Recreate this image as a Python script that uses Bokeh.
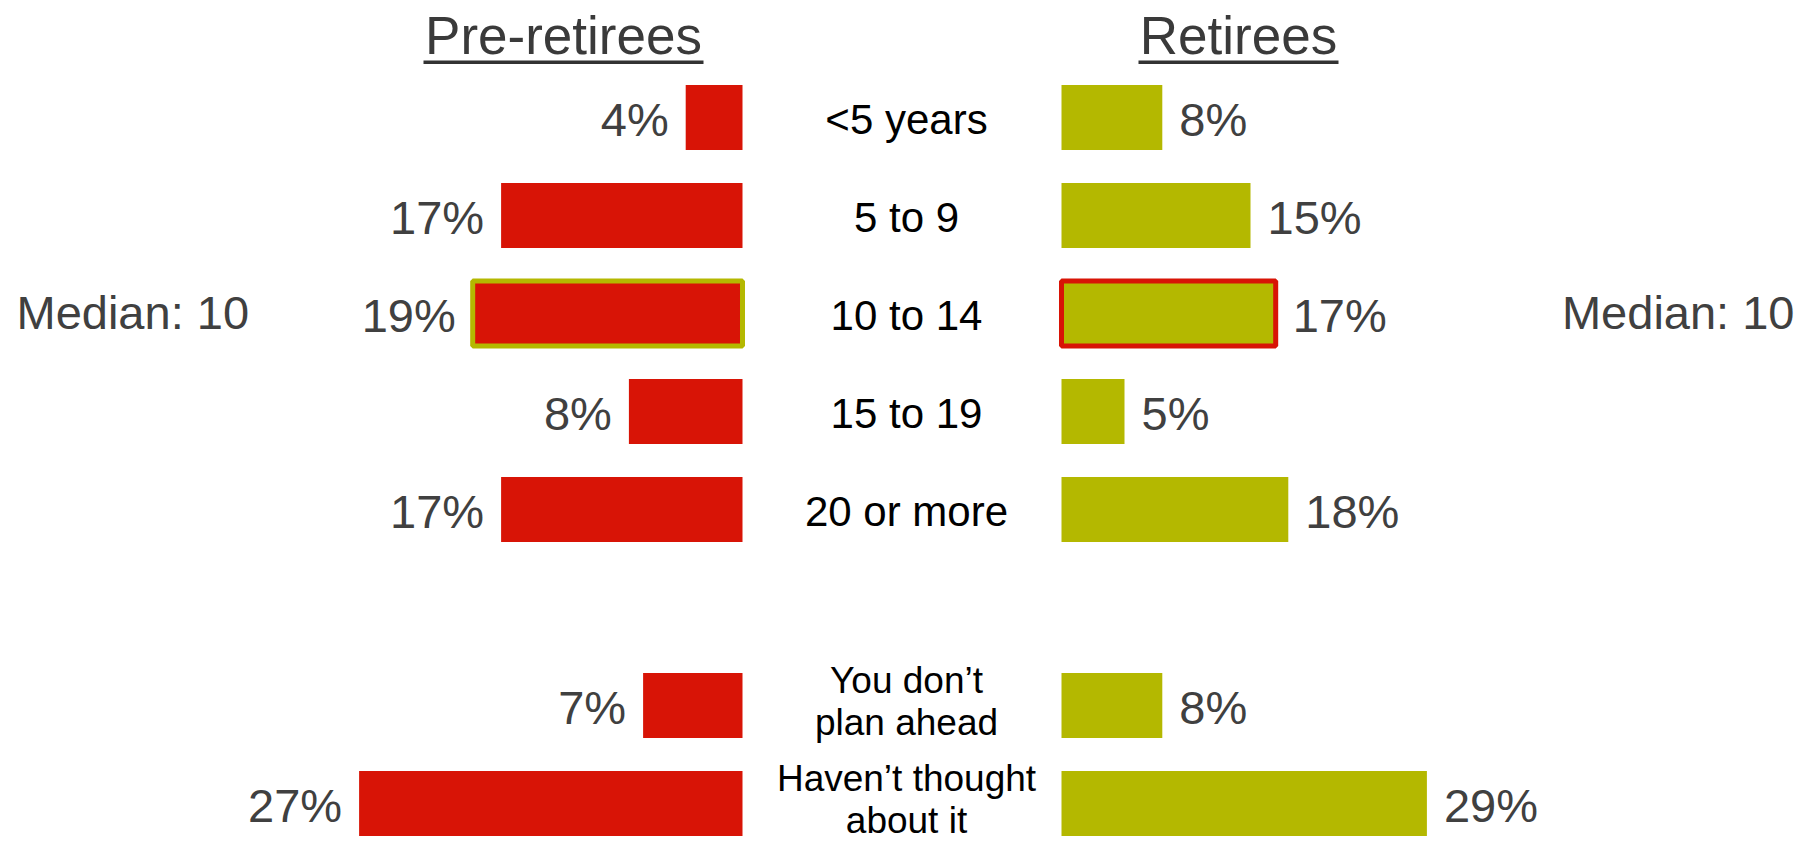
from bokeh.plotting import figure
from bokeh.models import ColumnDataSource, Range1d
from bokeh.core.properties import value
from bokeh.embed import file_html
from bokeh.resources import INLINE

# ---------------- data ----------------
categories = ["<5 years", "5 to 9", "10 to 14", "15 to 19", "20 or more",
              "You don\u2019t\nplan ahead", "Haven\u2019t thought\nabout it"]
category_group = [0, 0, 0, 0, 0, 1, 1]          # second group sits after a blank row
pre_retirees = [4, 17, 19, 8, 17, 7, 27]        # %
retirees = [8, 15, 17, 5, 18, 8, 29]            # %
series_titles = ["Pre-retirees", "Retirees"]
median_labels = ["Median: 10", "Median: 10"]
median_category = "10 to 14"

# ---------------- layout / style ----------------
W, H = 1797, 846
ROW_PX, FIRST_ROW_PX = 98, 117
LEFT_ZERO_PX, LEFT_PX_PER_UNIT = 742, 14.2
RIGHT_ZERO_PX, RIGHT_PX_PER_UNIT = 1061, 12.6
BAR_H = 0.663
RED = "#D81406"
OLIVE = "#B4B800"
GREY_TXT = "#404040"
FONT = value("Liberation Sans")

ys = [i + g for i, g in enumerate(category_group)]
med_idx = categories.index(median_category)

src = ColumnDataSource(dict(
    y=ys, cat=categories, pre=pre_retirees, ret=retirees,
    pre_lbl=[f"{v}%" for v in pre_retirees],
    ret_lbl=[f"{v}%" for v in retirees],
    cat_size=["37px" if "\n" in c else "42px" for c in categories],
    cat_dy=[-4 if "\n" in c else 2 for c in categories],
))

left_start = LEFT_ZERO_PX / LEFT_PX_PER_UNIT
left_end = left_start - W / LEFT_PX_PER_UNIT
right_start = -RIGHT_ZERO_PX / RIGHT_PX_PER_UNIT
right_end = right_start + W / RIGHT_PX_PER_UNIT


def y_at(px):
    return (px - FIRST_ROW_PX) / ROW_PX


p = figure(width=W, height=H, output_backend="svg", toolbar_location=None,
           x_axis_type=None, y_axis_type=None, min_border=0,
           x_range=Range1d(left_start, left_end),
           y_range=Range1d(y_at(H), y_at(0)))
p.extra_x_ranges = {"right": Range1d(right_start, right_end)}
p.grid.visible = False
p.outline_line_color = None
p.background_fill_color = "white"
p.border_fill_color = "white"

# bars
p.hbar(y="y", left=0, right="pre", height=BAR_H, source=src,
       fill_color=RED, line_color=None)
p.hbar(y="y", left=0, right="ret", height=BAR_H, source=src,
       fill_color=OLIVE, line_color=None, x_range_name="right")

# median-row highlight outlines
p.hbar(y=[ys[med_idx]], left=[0], right=[pre_retirees[med_idx]], height=BAR_H,
       fill_color=None, line_color=OLIVE, line_width=5)
p.hbar(y=[ys[med_idx]], left=[0], right=[retirees[med_idx]], height=BAR_H,
       fill_color=None, line_color=RED, line_width=5, x_range_name="right")

# value labels
p.text(x="pre", y="y", text="pre_lbl", source=src, text_align="right",
       text_baseline="middle", x_offset=-17, y_offset=2,
       text_font=FONT, text_font_size=value("47px"), text_color=GREY_TXT)
p.text(x="ret", y="y", text="ret_lbl", source=src, text_align="left",
       text_baseline="middle", x_offset=17, y_offset=2, x_range_name="right",
       text_font=FONT, text_font_size=value("47px"), text_color=GREY_TXT)

# category labels in the middle
CAT_X = (906 - RIGHT_ZERO_PX) / RIGHT_PX_PER_UNIT
p.text(x=CAT_X, y="y", text="cat", source=src, text_align="center",
       text_baseline="middle", y_offset="cat_dy", x_range_name="right",
       text_font=FONT, text_font_size="cat_size", text_color="#000000",
       text_line_height=1.04)

# titles with underline
TITLE_Y = y_at(35)
ULINE_Y = y_at(61.7)
left_title_x = (LEFT_ZERO_PX - 563) / LEFT_PX_PER_UNIT
right_title_x = (1238 - RIGHT_ZERO_PX) / RIGHT_PX_PER_UNIT
p.text(x=[left_title_x], y=[TITLE_Y], text=[series_titles[0]], text_align="center",
       text_baseline="middle", text_font=FONT, text_font_size=value("53px"),
       text_color="#3a3a3a")
p.text(x=[right_title_x], y=[TITLE_Y], text=[series_titles[1]], text_align="center",
       text_baseline="middle", text_font=FONT, text_font_size=value("53px"),
       text_color="#3a3a3a", x_range_name="right")
lh, rh = 140 / LEFT_PX_PER_UNIT, 100 / RIGHT_PX_PER_UNIT
p.segment(x0=[left_title_x - lh], x1=[left_title_x + lh], y0=[ULINE_Y], y1=[ULINE_Y],
          line_color="#333333", line_width=3.5)
p.segment(x0=[right_title_x - rh], x1=[right_title_x + rh], y0=[ULINE_Y], y1=[ULINE_Y],
          line_color="#333333", line_width=3.5, x_range_name="right")

# median annotations
p.text(x=[left_start - 16 / LEFT_PX_PER_UNIT], y=[ys[med_idx]], text=[median_labels[0]],
       text_align="left", text_baseline="middle", y_offset=-1,
       text_font=FONT, text_font_size=value("47px"), text_color=GREY_TXT)
p.text(x=[right_end - 3 / RIGHT_PX_PER_UNIT], y=[ys[med_idx]], text=[median_labels[1]],
       text_align="right", text_baseline="middle", y_offset=-1, x_range_name="right",
       text_font=FONT, text_font_size=value("47px"), text_color=GREY_TXT)

open("out.html", "w").write(file_html(p, INLINE))
